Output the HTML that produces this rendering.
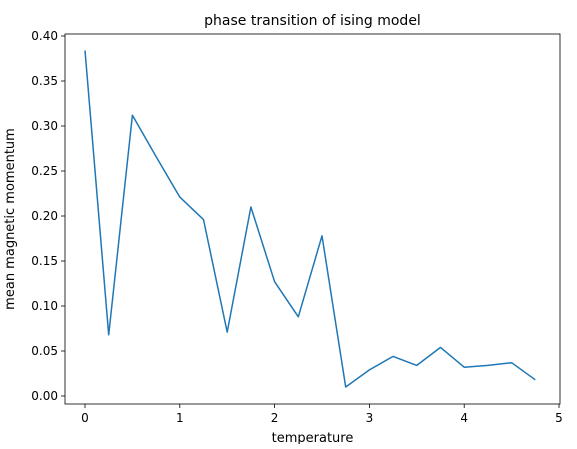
<!DOCTYPE html>
<html><head><meta charset="utf-8"><style>
body{margin:0;background:#fff;font-family:"Liberation Sans","DejaVu Sans",sans-serif;}
svg text{font-family:"DejaVu Sans","Liberation Sans",sans-serif;}
</style></head><body>
<svg id="chart" width="577" height="444" xmlns="http://www.w3.org/2000/svg"></svg>
<script>
const xValues=[0,0.25,0.5,0.75,1.0,1.25,1.5,1.75,2.0,2.25,2.5,2.75,3.0,3.25,3.5,3.75,4.0,4.25,4.5,4.75];
const yValues=[0.384,0.068,0.312,0.266,0.221,0.196,0.071,0.210,0.127,0.088,0.178,0.010,0.029,0.044,0.034,0.054,0.032,0.034,0.037,0.018];
const xTicks=[0,1,2,3,4,5];
const yTicks=[0.00,0.05,0.10,0.15,0.20,0.25,0.30,0.35,0.40];
const L=65,R=560,T=34,B=404;
const sx=v=>85+v*94.8;
const sy=v=>396-v*900;
const svg=document.getElementById('chart');
const NS='http://www.w3.org/2000/svg';
function mk(tag,attrs,txt){const e=document.createElementNS(NS,tag);for(const k in attrs)e.setAttribute(k,attrs[k]);if(txt!==undefined)e.textContent=txt;svg.appendChild(e);return e;}
const frame=mk('rect',{x:L,y:T,width:R-L,height:B-T,fill:'none',stroke:'#000','stroke-width':0.8});


xTicks.forEach(t=>{
 const x=sx(t);
 const l=mk('line',{x1:x,x2:x,y1:B,y2:B+4,stroke:'#000','stroke-width':0.8});
 
 
 const tx=mk('text',{x:x,y:B+18,'font-size':12,'text-anchor':'middle'},String(t));
 
 
});
yTicks.forEach(t=>{
 const y=sy(t);
 const l=mk('line',{x1:L-4,x2:L,y1:y,y2:y,stroke:'#000','stroke-width':0.8});
 
 
 const tx=mk('text',{x:L-7,y:y+4,'font-size':12,'text-anchor':'end'},t.toFixed(2));
 
 
});
const pts=xValues.map((x,i)=>sx(x)+','+sy(yValues[i])).join(' ');
const line=mk('polyline',{points:pts,fill:'none',stroke:'#1f77b4','stroke-width':1.5,'stroke-linejoin':'round'});


const title=mk('text',{x:(L+R)/2,y:25,'font-size':14,'text-anchor':'middle'},'phase transition of ising model');


const xt=mk('text',{x:(L+R)/2,y:442,'font-size':13,'text-anchor':'middle'},'temperature');


const yt=mk('text',{x:0,y:0,'font-size':13,'text-anchor':'middle',transform:'translate(14,'+((T+B)/2)+') rotate(-90)'},'mean magnetic momentum');


</script>
</body></html>
